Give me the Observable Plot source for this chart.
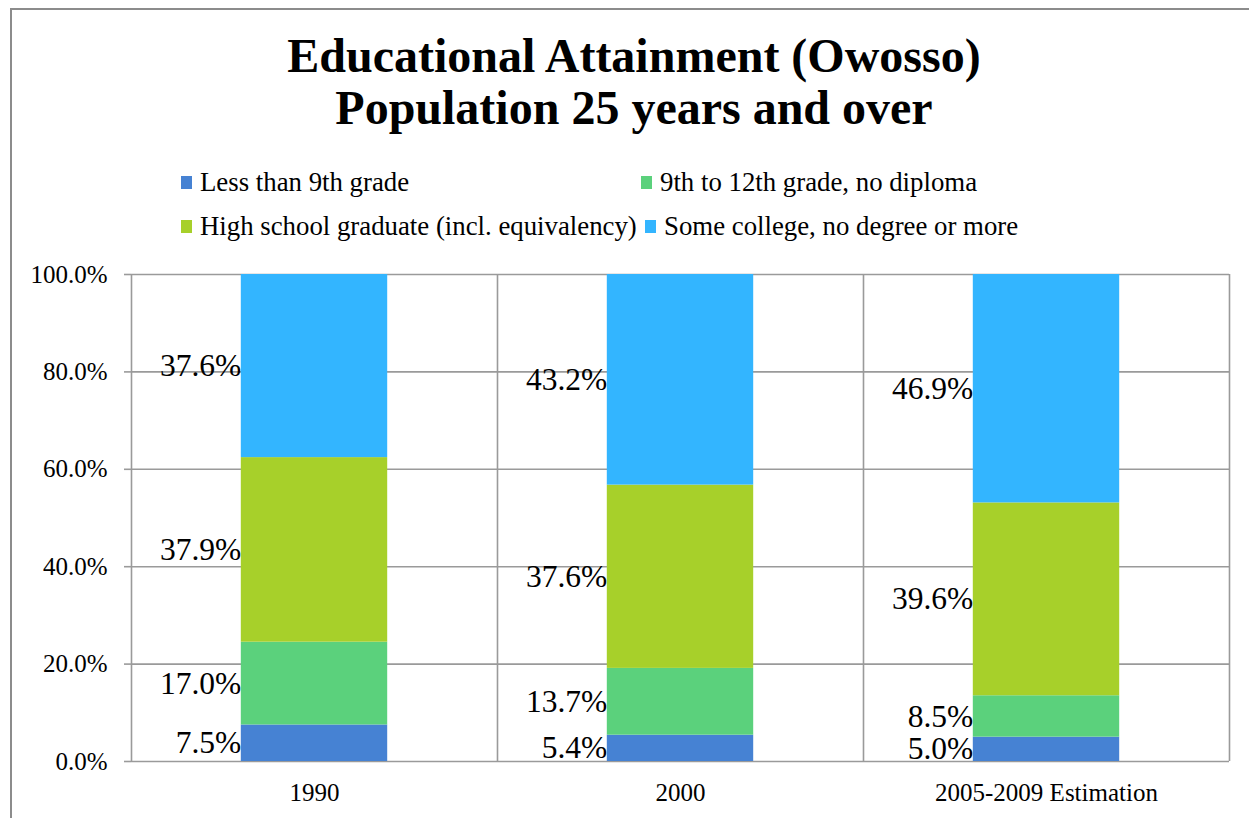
<!DOCTYPE html>
<html>
<head>
<meta charset="utf-8">
<script src="https://cdn.jsdelivr.net/npm/d3@7"></script>
<script src="https://cdn.jsdelivr.net/npm/@observablehq/plot@0.6"></script>
<style>
  html, body { margin: 0; padding: 0; background: #fff; overflow: hidden; }
  body { width: 1249px; height: 818px; position: relative; font-family: "Liberation Serif", "Times New Roman", serif; color: #000; }
  #box { position: absolute; left: 10px; top: 8px; width: 1300px; height: 900px; border-left: 2px solid #8c8c8c; border-top: 2px solid #8c8c8c; box-sizing: border-box; }
  #title { position: absolute; left: 10px; width: 1248px; top: 30px; text-align: center; font-family: "Liberation Serif", serif; font-weight: bold; font-size: 48px; line-height: 52px; }
  .leg { position: absolute; font-family: "Liberation Serif", serif; font-size: 26.8px; line-height: 30px; display: flex; align-items: center; white-space: nowrap; }
  .sw { display: inline-block; width: 11px; height: 13px; margin-right: 8px; }
  #chart { position: absolute; left: 0; top: 250px; }
</style>
</head>
<body>
<div id="box"></div>
<div id="title">Educational Attainment (Owosso)<br>Population 25 years and over</div>
<div id="legend"></div>
<div id="chart"></div>
<script>
const years = ["1990", "2000", "2005-2009 Estimation"];
const seriesNames = [
  "Less than 9th grade",
  "9th to 12th grade, no diploma",
  "High school graduate (incl. equivalency)",
  "Some college, no degree or more"
];
const lessThan9th = [7.5, 5.4, 5.0];
const grade9to12 = [17.0, 13.7, 8.5];
const highSchool = [37.9, 37.6, 39.6];
const someCollege = [37.6, 43.2, 46.9];
const colors = ["#4682D3", "#5BD17C", "#A7D02A", "#33B5FF"];
const yTicks = [0, 0.2, 0.4, 0.6, 0.8, 1.0];

const seriesValues = [lessThan9th, grade9to12, highSchool, someCollege];
const data = [];
years.forEach((yr, i) => {
  seriesNames.forEach((s, k) => {
    data.push({year: yr, idx: i, series: s, value: seriesValues[k][i]});
  });
});

// legend
const legendPos = [
  {left: 181, top: 167}, {left: 641, top: 167},
  {left: 181, top: 211}, {left: 645, top: 211}
];
const leg = document.getElementById("legend");
seriesNames.forEach((s, k) => {
  const d = document.createElement("div");
  d.className = "leg";
  d.style.left = legendPos[k].left + "px";
  d.style.top = legendPos[k].top + "px";
  d.innerHTML = `<span class="sw" style="background:${colors[k]}"></span><span>${s}</span>`;
  leg.appendChild(d);
});

const barOpts = {
  x1: d => d.idx + 0.3,
  x2: d => d.idx + 0.7,
  y: "value",
  z: "series",
  order: seriesNames,
  offset: "normalize"
};

const chart = Plot.plot({
  width: 1249,
  height: 568,
  marginLeft: 131,
  marginRight: 20,
  marginTop: 24,
  marginBottom: 57,
  style: {fontFamily: "Liberation Serif, Times New Roman, serif", fontSize: "25px", color: "#000", background: "transparent"},
  x: {type: "linear", domain: [0, years.length], axis: null},
  y: {domain: [0, 1], axis: null},
  color: {domain: seriesNames, range: colors},
  marks: [
    Plot.ruleY(yTicks, {stroke: "#9a9a9a", strokeWidth: 1.6}),
    Plot.ruleX(d3.range(years.length + 1), {stroke: "#9a9a9a", strokeWidth: 1.6}),
    Plot.axisY({ticks: yTicks, tickFormat: d3.format(".1%"), label: null, tickSize: 7, tickPadding: 17, fontSize: 25, stroke: "#9a9a9a", fill: "#000", strokeWidth: 1.6}),
    Plot.axisX({ticks: d3.range(years.length).map(i => i + 0.5), tickFormat: t => years[Math.floor(t)], label: null, tickSize: 0, tickPadding: 22, fontSize: 25, fill: "#000"}),
    Plot.rectY(data, Plot.stackY({...barOpts, fill: "series"})),
    Plot.text(data, Plot.stackY({
      ...barOpts,
      x: d => d.idx + 0.3,
      text: d => d3.format(".1f")(d.value) + "%",
      fill: "#000",
      textAnchor: "end",
      fontSize: 31.5,
      clip: true
    }))
  ]
});
document.getElementById("chart").appendChild(chart);
</script>
</body>
</html>
